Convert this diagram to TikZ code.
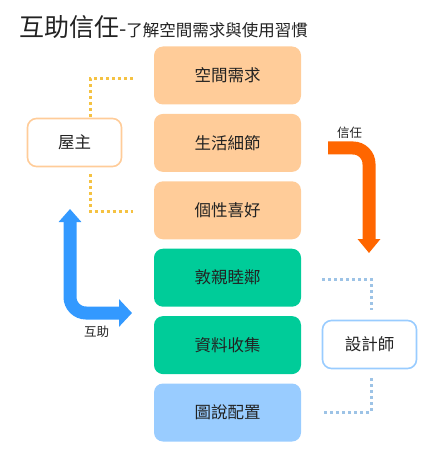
\documentclass[tikz,border=0pt]{standalone}
\usepackage{fontspec}
\setmainfont{Noto Sans CJK TC}
\usetikzlibrary{arrows.meta,positioning}
\definecolor{peach}{HTML}{FFCC99}
\definecolor{mint}{HTML}{00CC99}
\definecolor{sky}{HTML}{99CCFF}
\definecolor{ink}{HTML}{222222}
\definecolor{trustcol}{HTML}{FF6600}
\definecolor{helpcol}{HTML}{3399FF}
\definecolor{ydot}{HTML}{F5C242}
\definecolor{bdot}{HTML}{9DC3E6}
\tikzstyle{Step} = [rectangle, rounded corners=9pt, minimum height=58pt, minimum width=147pt, text=ink, font=\fontsize{16.5}{20}\selectfont]
\tikzstyle{Role} = [draw, line width=1.6pt, fill=white, rectangle, rounded corners=9pt, minimum height=48pt, minimum width=94pt, text=ink, font=\fontsize{16.5}{20}\selectfont]
\tikzstyle{Tag}  = [text=ink, font=\fontsize{12.5}{15}\selectfont]
\tikzstyle{Dots} = [line width=3pt, dash pattern=on 3pt off 3pt]

\begin{document}
\begin{tikzpicture}[x=1pt,y=-1pt]
    \useasboundingbox (0,0) rectangle (440,457);
    \node[anchor=base west, text=ink, inner sep=0pt] (title) at (19,37)
      {{\fontsize{25}{30}\selectfont 互助信任}{\fontsize{21}{24}\selectfont -}{\fontsize{16.5}{20}\selectfont 了解空間需求與使用習慣}};
    \node[Step, fill=peach] (need)   at (227.5,75.5)   {空間需求};
    \node[Step, fill=peach] (life)   [below=9pt of need] {生活細節};
    \node[Step, fill=peach] (pref)   [below=9pt of life] {個性喜好};
    \node[Step, fill=mint]  (kin)    [below=9pt of pref] {敦親睦鄰};
    \node[Step, fill=mint]  (data)   [below=9pt of kin]  {資料收集};
    \node[Step, fill=sky]   (plan)   [below=9pt of data] {圖說配置};
    \node[Role, draw=peach] (owner)    at (74.5,142.5)   {屋主};
    \node[Role, draw=sky]   (designer) at (369.5,344.5)  {設計師};
    \draw[Dots, draw=ydot] ([xshift=-21pt,yshift=-3.5pt]need.west) -| ([xshift=15.5pt]owner.north);
    \draw[Dots, draw=ydot] ([xshift=15.5pt,yshift=-7pt]owner.south) |- ([xshift=-21pt,yshift=-1.5pt]pref.west);
    \draw[Dots, draw=bdot] ([xshift=21pt,yshift=-1.5pt]kin.east) -| ([xshift=1.5pt,yshift=10pt]designer.north);
    \draw[Dots, draw=bdot] ([xshift=1.5pt,yshift=-9pt]designer.south) |- ([xshift=21pt]plan.east);
    % thick arrows
    \coordinate (trustA) at (328,148);
    \coordinate (trustB) at (369,253);
    \coordinate (helpA)  at (70,209);
    \coordinate (helpB)  at (132,313);
    \draw[trustcol, line width=13pt, rounded corners=16pt, -{Triangle[width=22pt,length=14pt]}] (trustA) -| (trustB);
    \draw[helpcol, line width=13pt, rounded corners=16pt, {Triangle[width=22pt,length=13pt]}-{Triangle[width=27pt,length=13pt]}] (helpA) |- (helpB);
    \node[Tag] (trustlbl) at (349.5,133) {信任};
    \node[Tag] (helplbl)  at (96.5,332)  {互助};
  \end{tikzpicture}
\end{document}
